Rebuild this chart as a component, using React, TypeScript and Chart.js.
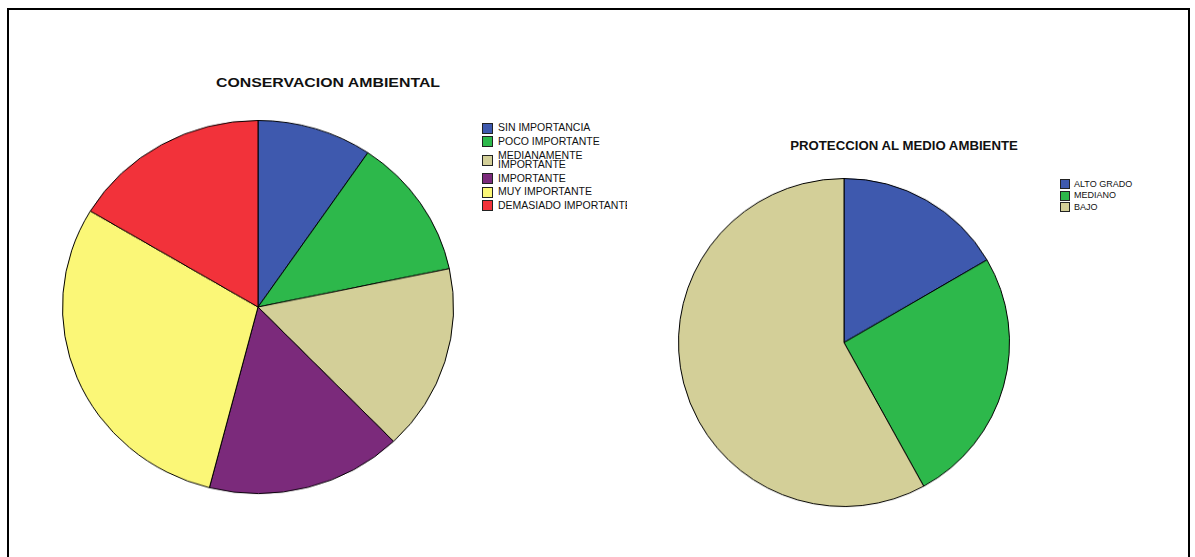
import React, { useEffect, useRef } from "react";
import { Chart, registerables } from "chart.js";

Chart.register(...registerables);

const leftTitle = "CONSERVACION AMBIENTAL";
const leftLabels = [
  "SIN IMPORTANCIA",
  "POCO IMPORTANTE",
  "MEDIANAMENTE IMPORTANTE",
  "IMPORTANTE",
  "MUY IMPORTANTE",
  "DEMASIADO IMPORTANTE",
];
const leftLegendLines = [
  ["SIN IMPORTANCIA"],
  ["POCO IMPORTANTE"],
  ["MEDIANAMENTE", "IMPORTANTE"],
  ["IMPORTANTE"],
  ["MUY IMPORTANTE"],
  ["DEMASIADO IMPORTANTE"],
];
const leftValues = [9.5, 12.2, 16.1, 16.2, 29.6, 16.4];
const leftColors = ["#3e59ae", "#2db84b", "#d3cf98", "#7b2a7b", "#fbf777", "#f2323a"];

const rightTitle = "PROTECCION AL MEDIO AMBIENTE";
const rightLabels = ["ALTO GRADO", "MEDIANO", "BAJO"];
const rightValues = [16.6, 25.4, 58.0];
const rightColors = ["#3e59ae", "#2db84b", "#d3cf98"];

function Pie(props: {
  labels: string[];
  values: number[];
  colors: string[];
  size: number;
  styleW: number;
  styleH: number;
  left: number;
  top: number;
}) {
  const ref = useRef<HTMLCanvasElement | null>(null);
  useEffect(() => {
    const c = ref.current;
    if (!c) return;
    const chart = new Chart(c, {
      type: "pie",
      data: {
        labels: props.labels,
        datasets: [
          {
            data: props.values,
            backgroundColor: props.colors,
            borderColor: "#000000",
            borderWidth: 1,
          },
        ],
      },
      options: {
        responsive: false,
        animation: false,
        devicePixelRatio: 1,
        layout: { padding: 1 },
        plugins: {
          legend: { display: false },
          title: { display: false },
          tooltip: { enabled: false },
        },
      },
    });
    return () => chart.destroy();
  }, []);
  return (
    <canvas
      ref={ref}
      width={props.size}
      height={props.size}
      style={{
        position: "absolute",
        left: props.left,
        top: props.top,
        width: props.styleW + "px",
        height: props.styleH + "px",
      }}
    />
  );
}

export default function App() {
  const font = "'Liberation Sans', Arial, sans-serif";
  const LINE = 9.5;
  // compute top of each legend row (relative to legend box)
  let center = 5.5;
  let prevMulti = false;
  const rowTops: number[] = leftLegendLines.map((lines, i) => {
    const multi = lines.length > 1;
    if (i > 0) center += multi ? 13.9 : prevMulti ? 14 : 13.4;
    const top = multi ? center - LINE / 2 : center - 5.5;
    if (multi) center += LINE * (lines.length - 1);
    prevMulti = multi;
    return top;
  });
  return (
    <div
      style={{
        position: "fixed",
        left: 0,
        top: 0,
        width: 1195,
        height: 557,
        overflow: "hidden",
        background: "#fff",
        fontFamily: font,
      }}
    >
      <div
        style={{
          position: "absolute",
          left: 7,
          top: 8,
          width: 1179,
          height: 600,
          border: "2px solid #000",
        }}
      />
      <div
        style={{
          position: "absolute",
          left: 128,
          top: 74,
          width: 400,
          textAlign: "center",
          fontWeight: "bold",
          fontSize: 13,
          lineHeight: "18px",
          transform: "scaleX(1.22)",
          color: "#111",
        }}
      >
        {leftTitle}
      </div>
      <Pie
        labels={leftLabels}
        values={leftValues}
        colors={leftColors}
        size={394}
        styleW={394}
        styleH={376}
        left={61}
        top={119}
      />
      <div
        style={{
          position: "absolute",
          left: 482,
          top: 122.5,
          width: 145,
          height: 100,
          overflow: "hidden",
          whiteSpace: "nowrap",
          fontSize: 10.5,
          lineHeight: LINE + "px",
          color: "#111",
        }}
      >
        {leftLegendLines.map((lines, i) => (
          <div
            key={i}
            style={{
              position: "absolute",
              left: 0,
              top: rowTops[i],
              display: "flex",
              alignItems: "center",
            }}
          >
            <div
              style={{
                width: 9,
                height: 9,
                background: leftColors[i],
                border: "1px solid #222",
                flex: "none",
                marginRight: 5,
              }}
            />
            <div>
              {lines.map((l, j) => (
                <div key={j} style={{ height: LINE }}>{l}</div>
              ))}
            </div>
          </div>
        ))}
      </div>
      <div
        style={{
          position: "absolute",
          left: 704,
          top: 138,
          width: 400,
          textAlign: "center",
          fontWeight: "bold",
          fontSize: 12,
          lineHeight: "16px",
          transform: "scaleX(1.1)",
          color: "#111",
        }}
      >
        {rightTitle}
      </div>
      <Pie
        labels={rightLabels}
        values={rightValues}
        colors={rightColors}
        size={334}
        styleW={334}
        styleH={331}
        left={677}
        top={177}
      />
      <div
        style={{
          position: "absolute",
          left: 1060,
          top: 179,
          width: 100,
          whiteSpace: "nowrap",
          fontSize: 9,
          lineHeight: "9px",
          color: "#111",
        }}
      >
        {rightLabels.map((l, i) => (
          <div key={i} style={{ display: "flex", alignItems: "center", marginBottom: 1.5 }}>
            <div
              style={{
                width: 8,
                height: 8,
                background: rightColors[i],
                border: "1px solid #222",
                flex: "none",
                marginRight: 4,
              }}
            />
            <div>{l}</div>
          </div>
        ))}
      </div>
    </div>
  );
}
